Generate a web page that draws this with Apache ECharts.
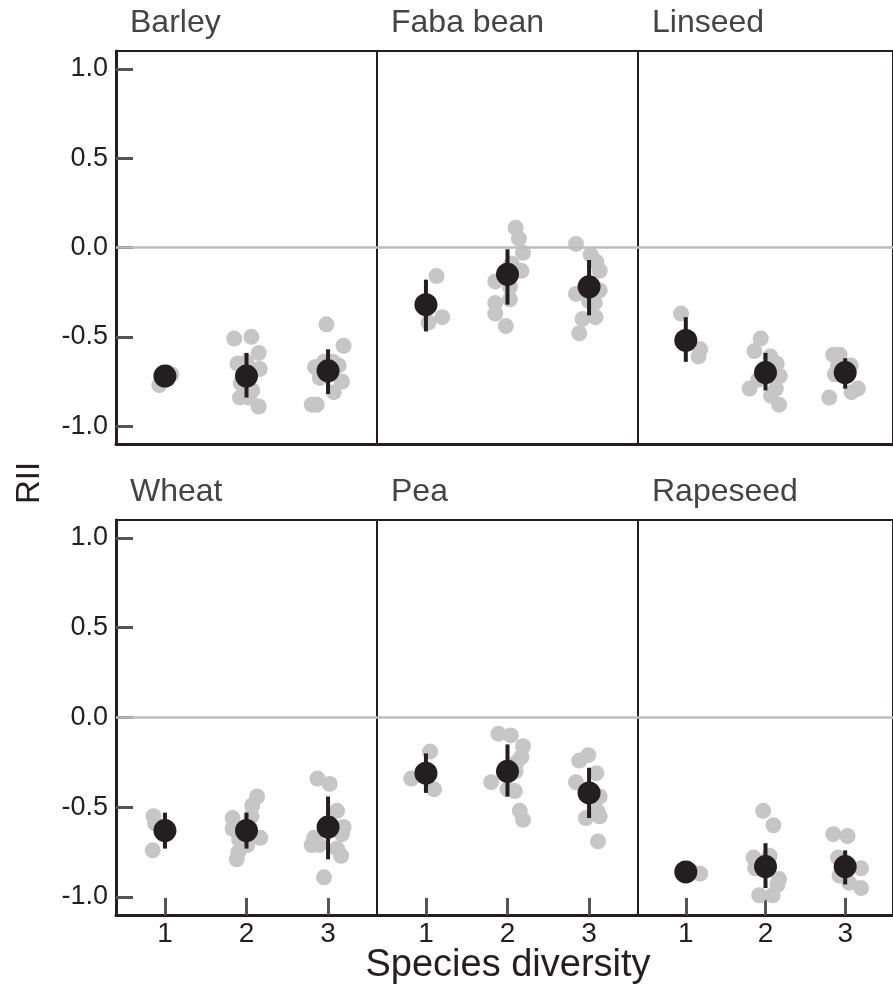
<!DOCTYPE html>
<html>
<head>
<meta charset="utf-8">
<script src="https://cdn.jsdelivr.net/npm/echarts@6/dist/echarts.min.js"></script>
<style>
  html, body { margin: 0; padding: 0; background: #fff; }
  #chart { width: 893px; height: 992px; }
</style>
</head>
<body>
<div id="chart"></div>
<script>
// Panel names, in reading order (top row, then bottom row)
const crops = ['Barley', 'Faba bean', 'Linseed', 'Wheat', 'Pea', 'Rapeseed'];
const diversityTicks = [1, 2, 3];
const riiTicks = [-1.0, -0.5, 0.0, 0.5, 1.0];

// Individual plot observations: [species diversity (jittered), RII]
const barleyPts = [[1.08,-0.71],[0.93,-0.77],[1.03,-0.70],
  [1.85,-0.51],[2.06,-0.50],[2.15,-0.59],[1.89,-0.65],[2.16,-0.68],[2.00,-0.64],[1.93,-0.76],[2.07,-0.80],[1.92,-0.84],[2.03,-0.84],[2.15,-0.89],
  [2.98,-0.43],[3.19,-0.55],[2.84,-0.67],[3.13,-0.66],[2.95,-0.64],[3.06,-0.64],[2.90,-0.73],[3.17,-0.75],[3.07,-0.81],[2.80,-0.88],[2.86,-0.88]];
const fabaPts = [[1.13,-0.16],[1.20,-0.39],[1.03,-0.42],
  [2.10,0.11],[2.14,0.05],[2.19,-0.03],[2.05,-0.09],[2.17,-0.13],[1.85,-0.19],[2.03,-0.22],[2.03,-0.29],[1.85,-0.31],[1.85,-0.37],[1.98,-0.44],
  [2.84,0.02],[3.02,-0.04],[3.09,-0.08],[3.13,-0.13],[3.13,-0.24],[2.84,-0.26],[3.00,-0.30],[3.07,-0.31],[3.08,-0.39],[2.92,-0.40],[2.88,-0.48]];
const linseedPts = [[0.94,-0.37],[1.18,-0.57],[1.16,-0.61],
  [1.94,-0.51],[1.86,-0.58],[2.06,-0.61],[2.14,-0.65],[2.18,-0.72],[1.91,-0.74],[1.80,-0.79],[2.13,-0.79],[2.07,-0.83],[2.17,-0.88],
  [2.85,-0.60],[2.93,-0.60],[2.91,-0.66],[3.07,-0.66],[2.87,-0.71],[3.16,-0.79],[3.08,-0.81],[2.80,-0.84]];
const wheatPts = [[0.86,-0.55],[0.88,-0.59],[0.85,-0.74],
  [2.13,-0.44],[2.07,-0.49],[1.83,-0.56],[2.06,-0.55],[1.83,-0.62],[2.17,-0.67],[1.91,-0.68],[2.01,-0.71],[1.90,-0.75],[1.88,-0.79],
  [2.87,-0.34],[3.02,-0.37],[3.11,-0.52],[3.19,-0.61],[3.17,-0.65],[2.83,-0.67],[2.80,-0.71],[2.89,-0.71],[3.11,-0.73],[3.16,-0.77],[2.95,-0.89]];
const peaPts = [[1.05,-0.19],[0.82,-0.34],[1.10,-0.40],
  [1.89,-0.09],[2.04,-0.10],[2.19,-0.16],[2.17,-0.22],[2.11,-0.25],[2.10,-0.30],[1.80,-0.36],[2.00,-0.40],[2.09,-0.41],[2.15,-0.52],[2.19,-0.57],
  [2.99,-0.21],[2.88,-0.24],[3.09,-0.31],[2.84,-0.36],[3.13,-0.44],[3.10,-0.52],[3.13,-0.55],[2.96,-0.56],[3.11,-0.69]];
const rapeseedPts = [[1.18,-0.87],[1.08,-0.86],
  [1.97,-0.52],[2.10,-0.60],[1.85,-0.78],[2.05,-0.77],[1.87,-0.84],[2.17,-0.90],[2.15,-0.93],[1.92,-0.99],[2.09,-0.99],
  [2.85,-0.65],[3.03,-0.66],[2.91,-0.78],[3.20,-0.84],[2.93,-0.88],[3.05,-0.92],[3.20,-0.95]];

// Group means and error-bar limits at diversity 1, 2, 3
const barleyMean = [-0.72, -0.72, -0.69];
const barleyLow  = [-0.76, -0.84, -0.82];
const barleyHigh = [-0.68, -0.59, -0.57];
const fabaMean = [-0.32, -0.15, -0.22];
const fabaLow  = [-0.47, -0.32, -0.38];
const fabaHigh = [-0.18, -0.01, -0.07];
const linseedMean = [-0.52, -0.70, -0.70];
const linseedLow  = [-0.64, -0.80, -0.79];
const linseedHigh = [-0.39, -0.59, -0.62];
const wheatMean = [-0.63, -0.63, -0.61];
const wheatLow  = [-0.73, -0.73, -0.79];
const wheatHigh = [-0.53, -0.53, -0.44];
const peaMean = [-0.31, -0.30, -0.42];
const peaLow  = [-0.42, -0.44, -0.56];
const peaHigh = [-0.20, -0.15, -0.28];
const rapeseedMean = [-0.86, -0.83, -0.83];
const rapeseedLow  = [-0.90, -0.95, -0.93];
const rapeseedHigh = [-0.82, -0.70, -0.74];

const points = [barleyPts, fabaPts, linseedPts, wheatPts, peaPts, rapeseedPts];
const means = [barleyMean, fabaMean, linseedMean, wheatMean, peaMean, rapeseedMean];
const lows = [barleyLow, fabaLow, linseedLow, wheatLow, peaLow, rapeseedLow];
const highs = [barleyHigh, fabaHigh, linseedHigh, wheatHigh, peaHigh, rapeseedHigh];

// Layout
const FONT = "'Liberation Sans', Arial, Helvetica, sans-serif";
const INK = '#231f20';
const TICK = '#555555';
const colLeft = [116, 377, 638];
const colWidth = 261;
const rowTop = [51, 520];
const rowHeight = [393, 395];

const grids = [], xAxes = [], yAxes = [], series = [], titles = [];

crops.forEach((name, i) => {
  const col = i % 3, row = Math.floor(i / 3);
  const isLeft = col === 0, isBottom = row === 1;

  grids.push({
    left: colLeft[col], top: rowTop[row], width: colWidth, height: rowHeight[row],
    show: true, borderColor: INK, borderWidth: 2, backgroundColor: 'transparent',
    containLabel: false
  });

  xAxes.push({
    gridIndex: i, type: 'value', min: 0.4, max: 3.6,
    axisLine: { show: true, onZero: false, lineStyle: { color: INK, width: 3 } },
    axisTick: { show: isBottom, inside: true, length: 17, customValues: diversityTicks,
      lineStyle: { color: TICK, width: 3 } },
    axisLabel: { show: isBottom, customValues: diversityTicks, margin: 5,
      fontFamily: FONT, fontSize: 28, color: INK, formatter: v => String(v) },
    splitLine: { show: false }
  });

  yAxes.push({
    gridIndex: i, type: 'value', min: -1.1, max: 1.1,
    axisLine: { show: isLeft, onZero: false, lineStyle: { color: INK, width: 3 } },
    axisTick: { show: isLeft, inside: true, length: 17, customValues: riiTicks,
      lineStyle: { color: TICK, width: 3 } },
    axisLabel: { show: isLeft, customValues: riiTicks, margin: 8,
      fontFamily: FONT, fontSize: 27, color: INK, formatter: v => v.toFixed(1) },
    splitLine: { show: false }
  });

  titles.push({
    text: name, left: colLeft[col] + 14, top: rowTop[row] - 44, padding: 0,
    textStyle: { fontFamily: FONT, fontSize: 32, fontWeight: 'normal', color: '#444444' }
  });

  // zero reference line
  series.push({
    type: 'line', xAxisIndex: i, yAxisIndex: i, data: [], silent: true, z: 1,
    markLine: {
      silent: true, symbol: ['none', 'none'], label: { show: false },
      lineStyle: { color: '#bdbdbd', width: 2.5, type: 'solid' },
      emphasis: { disabled: true },
      data: [{ yAxis: 0 }]
    }
  });

  // individual observations
  series.push({
    type: 'scatter', xAxisIndex: i, yAxisIndex: i, z: 2, silent: true,
    symbol: 'circle', symbolSize: 16,
    itemStyle: { color: '#c6c6c6', opacity: 1 },
    data: points[i]
  });

  // error bars
  series.push({
    type: 'custom', xAxisIndex: i, yAxisIndex: i, z: 3, silent: true,
    data: diversityTicks.map((d, k) => [d, lows[i][k], highs[i][k]]),
    renderItem: (params, api) => {
      const p1 = api.coord([api.value(0), api.value(1)]);
      const p2 = api.coord([api.value(0), api.value(2)]);
      return {
        type: 'line',
        shape: { x1: p1[0], y1: p1[1], x2: p2[0], y2: p2[1] },
        style: { stroke: INK, lineWidth: 4 }
      };
    }
  });

  // group means
  series.push({
    type: 'scatter', xAxisIndex: i, yAxisIndex: i, z: 4, silent: true,
    symbol: 'circle', symbolSize: 23,
    itemStyle: { color: INK, opacity: 1 },
    data: diversityTicks.map((d, k) => [d, means[i][k]])
  });
});

const chart = echarts.init(document.getElementById('chart'), null, { renderer: 'canvas' });
chart.setOption({
  animation: false,
  backgroundColor: '#ffffff',
  title: titles,
  grid: grids,
  xAxis: xAxes,
  yAxis: yAxes,
  series: series,
  graphic: [
    {
      type: 'text', x: 30, y: 483, rotation: Math.PI / 2,
      style: { text: 'RII', fontFamily: FONT, fontSize: 33, fill: INK,
        textAlign: 'center', textVerticalAlign: 'middle' }
    },
    {
      type: 'text', x: 508, y: 966,
      style: { text: 'Species diversity', fontFamily: FONT, fontSize: 38, fill: INK,
        textAlign: 'center', textVerticalAlign: 'middle' }
    }
  ]
});
</script>
</body>
</html>
